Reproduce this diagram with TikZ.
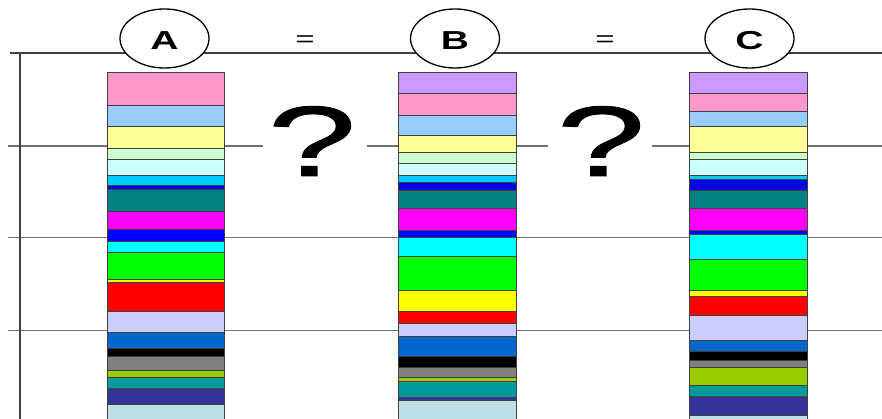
\documentclass[tikz,border=0pt]{standalone}
\usepackage{fontspec}
\setmainfont{Liberation Sans}
\newfontfamily\qfont[FakeBold=0.8]{Liberation Sans}
\definecolor{pinkc}{HTML}{FF99CC}
\definecolor{lbluec}{HTML}{99CCFF}
\definecolor{lyellowc}{HTML}{FFFF99}
\definecolor{lgreenc}{HTML}{CCFFCC}
\definecolor{lcyanc}{HTML}{CCFFFF}
\definecolor{skyc}{HTML}{00CCFF}
\definecolor{dbluec}{HTML}{0000E0}
\definecolor{tealc}{HTML}{008080}
\definecolor{magc}{HTML}{FF00FF}
\definecolor{bluec}{HTML}{0000FF}
\definecolor{cyanc}{HTML}{00FFFF}
\definecolor{greenc}{HTML}{00FF00}
\definecolor{yellowc}{HTML}{FFFF00}
\definecolor{redc}{HTML}{FF0000}
\definecolor{lavc}{HTML}{CCCCFF}
\definecolor{mbluec}{HTML}{0066CC}
\definecolor{blackc}{HTML}{000000}
\definecolor{grayc}{HTML}{808080}
\definecolor{ygreenc}{HTML}{99CC00}
\definecolor{tcyanc}{HTML}{009999}
\definecolor{slatec}{HTML}{333399}
\definecolor{lbgc}{HTML}{BEE0E6}
\definecolor{purpc}{HTML}{CC99FF}
\definecolor{linec}{HTML}{404040}
\definecolor{gridc}{HTML}{707070}
\tikzset{
  stripe/.style={line width=0.8pt, draw=black!75},
  grid line/.style={draw=gridc, line width=1.2pt},
  frame line/.style={draw=linec, line width=2pt},
  label ellipse/.style={ellipse, draw=black, line width=1.3pt, fill=white, minimum width=89pt, minimum height=59pt, inner sep=0pt},
  letter/.style={font=\fontsize{26}{26}\selectfont\bfseries, xscale=1.5, anchor=base, inner sep=0pt},
  eqsign/.style={font=\fontsize{22}{22}\selectfont, xscale=1.5, anchor=base, inner sep=0pt},
  qmark/.style={font=\qfont\fontsize{100}{100}\selectfont, xscale=1.6, anchor=base, inner sep=0pt}
}
\usetikzlibrary{shapes.geometric}
\begin{document}
\begin{tikzpicture}[x=1pt,y=-1pt]
\useasboundingbox (0,0) rectangle (882,419);
\clip (0,0) rectangle (882,419);
% grid lines
\draw[grid line] (8,146) -- (263,146);
\draw[grid line] (367,146) -- (548,146);
\draw[grid line] (652,146) -- (882,146);
\draw[grid line] (8,237.7) -- (882,237.7);
\draw[grid line] (8,330.3) -- (882,330.3);
% frame
\draw[frame line] (10,53) -- (882,53);
\draw[frame line] (20,53) -- (20,425);
% bar A
\foreach \t/\b/\c in {72.3/105/pinkc,105/126.7/lbluec,126.7/148.3/lyellowc,148.3/159.3/lgreenc,159.3/175/lcyanc,175/185/skyc,185/189.3/dbluec,189.3/211.7/tealc,211.7/229.3/magc,229.3/241.7/bluec,241.7/252.7/cyanc,252.7/279/greenc,279/282.3/yellowc,282.3/311/redc,311/332.7/lavc,332.7/348.3/mbluec,348.3/356/blackc,356/370/grayc,370/377.7/ygreenc,377.7/388.7/tcyanc,388.7/404.3/slatec,404.3/425/lbgc}
  \filldraw[stripe, fill=\c] (107,\t) rectangle (224,\b);
% bar B
\foreach \t/\b/\c in {72.3/93.3/purpc,93.3/115/pinkc,115/135/lbluec,135/152.3/lyellowc,152.3/163.3/lgreenc,163.3/175/lcyanc,175/182.7/skyc,182.7/190/dbluec,190/208.3/tealc,208.3/230/magc,230/237.3/bluec,237.3/256/cyanc,256/290/greenc,290/311/yellowc,311/323.3/redc,323.3/336.7/lavc,336.7/356/mbluec,356/367.7/blackc,367.7/377.7/grayc,377.7/381/ygreenc,381/397.3/tcyanc,397.3/400.7/slatec,400.7/425/lbgc}
  \filldraw[stripe, fill=\c] (398,\t) rectangle (516,\b);
% bar C
\foreach \t/\b/\c in {72.3/93.3/purpc,93.3/111.7/pinkc,111.7/126.7/lbluec,126.7/152.3/lyellowc,152.3/159.3/lgreenc,159.3/175/lcyanc,175/179.3/skyc,179.3/190/dbluec,190/208.3/tealc,208.3/230/magc,230/234/bluec,234/259.3/cyanc,259.3/290/greenc,290/296/yellowc,296/315.7/redc,315.7/340.7/lavc,340.7/351.7/mbluec,351.7/360/blackc,360/367.3/grayc,367.3/385/ygreenc,385/396.7/tcyanc,396.7/415/slatec,415/425/lbgc}
  \filldraw[stripe, fill=\c] (689,\t) rectangle (807,\b);
% labels
\node[label ellipse] (A) at (164.5,38.5) {};
\node[label ellipse] (B) at (455,38.5) {};
\node[label ellipse] (C) at (749.5,38.5) {};
\node[letter] (lA) at (164.5,49.5) {A};
\node[letter] (lB) at (455,49.5) {B};
\node[letter] (lC) at (749.5,49.5) {C};
\node[eqsign] (e1) at (305,47) {=};
\node[eqsign] (e2) at (605,47) {=};
\node[qmark] (q1) at (312,176) {?};
\node[qmark] (q2) at (601,176) {?};
\end{tikzpicture}
\end{document}
